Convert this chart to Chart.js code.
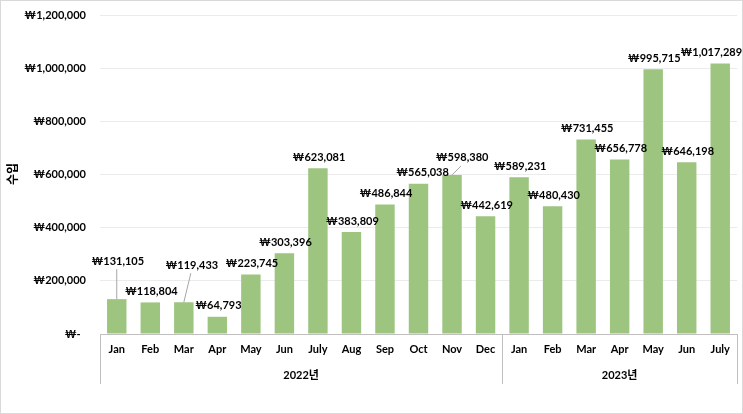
<!DOCTYPE html>
<html>
<head>
<meta charset="utf-8">
<script src="https://cdn.jsdelivr.net/npm/chart.js@4.4.1/dist/chart.umd.min.js"></script>
<style>
  html, body { margin: 0; padding: 0; background: #fff; }
  #wrap { width: 743px; height: 414px; box-sizing: border-box; border: 1px solid #d9d9d9; position: relative; }
  canvas { position: absolute; left: -1px; top: -1px; }
</style>
</head>
<body>
<div id="wrap"><canvas id="chart" width="743" height="414"></canvas></div>
<script>
// ================== DATA ==================
const months = ['Jan', 'Feb', 'Mar', 'Apr', 'May', 'Jun', 'July', 'Aug', 'Sep', 'Oct', 'Nov', 'Dec',
                'Jan', 'Feb', 'Mar', 'Apr', 'May', 'Jun', 'July'];
const years = [
  { label: '2022년', count: 12 },
  { label: '2023년', count: 7 }
];
const income = [131105, 118804, 119433, 64793, 223745, 303396, 623081, 383809, 486844, 565038, 598380, 442619,
                589231, 480430, 731455, 656778, 995715, 646198, 1017289];
const yTicks = [0, 200000, 400000, 600000, 800000, 1000000, 1200000];
const yTitle = '수입';

// ================== HELPERS ==================
const FONT = "Lato, 'Noto Sans CJK KR', sans-serif";
const won = v => v === 0 ? '₩-  ' : '₩' + v.toLocaleString('en-US');

// label nudges (Excel moved a few labels by hand, some with leader lines)
const labelNudge = { 0: [0, -27, true], 2: [7, -26, true], 9: [3, 0], 10: [9, -6, true], 18: [-10, 0] };

const barLabels = {
  id: 'barLabels',
  afterDatasetsDraw(chart) {
    const ctx = chart.ctx;
    const meta = chart.getDatasetMeta(0);
    ctx.save();
    ctx.font = `bold 11px ${FONT}`;
    ctx.textAlign = 'center';
    ctx.textBaseline = 'middle';
    meta.data.forEach((bar, i) => {
      const n = labelNudge[i] || [0, 0];
      const x = bar.x + 1 + n[0];
      const y = bar.y - 11 + n[1];
      if (n[2]) {
        ctx.strokeStyle = '#a6a6a6';
        ctx.lineWidth = 1;
        ctx.beginPath();
        ctx.moveTo(x - 1, y + 8);
        ctx.lineTo(bar.x, bar.y);
        ctx.stroke();
      }
      ctx.fillStyle = '#000';
      ctx.fillText(won(income[i]), x, y);
    });
    ctx.restore();
  }
};

// two-level category axis like Excel
const groupAxis = {
  id: 'groupAxis',
  afterDraw(chart) {
    const ctx = chart.ctx;
    const xs = chart.scales.x;
    const area = chart.chartArea;
    const step = (area.right - area.left) / months.length;
    ctx.save();
    ctx.strokeStyle = '#bfbfbf';
    ctx.lineWidth = 1;
    ctx.fillStyle = '#000';
    ctx.textAlign = 'center';
    ctx.textBaseline = 'middle';
    ctx.font = `bold 11px ${FONT}`;
    months.forEach((m, i) => ctx.fillText(m, xs.getPixelForValue(i), area.bottom + 15));
    let start = 0;
    const edges = [area.left];
    years.forEach(g => {
      const l = area.left + start * step;
      const r = area.left + (start + g.count) * step;
      ctx.fillText(g.label, (l + r) / 2, area.bottom + 41);
      edges.push(r);
      start += g.count;
    });
    edges.forEach(e => {
      const px = Math.round(e) + 0.5;
      ctx.beginPath();
      ctx.moveTo(px, area.bottom);
      ctx.lineTo(px, area.bottom + 50);
      ctx.stroke();
    });
    // y axis title
    ctx.translate(13, 174);
    ctx.rotate(-Math.PI / 2);
    ctx.font = `bold 12px ${FONT}`;
    ctx.fillText(yTitle, 0, 0);
    ctx.restore();
  }
};

// ================== CHART ==================
new Chart(document.getElementById('chart'), {
  type: 'bar',
  data: {
    labels: months.map((m, i) => m + (i < 12 ? ' 2022' : ' 2023')),
    datasets: [{
      data: income,
      backgroundColor: '#9dc580',
      barPercentage: 0.58,
      categoryPercentage: 1
    }]
  },
  options: {
    responsive: false,
    animation: false,
    layout: { padding: { top: 15, right: 6, left: 0, bottom: 0 } },
    plugins: { legend: { display: false }, tooltip: { enabled: false } },
    scales: {
      x: {
        ticks: { display: false },
        grid: { display: false, drawTicks: false },
        border: { color: '#bfbfbf' },
        afterFit: s => { s.height = 80; }
      },
      y: {
        min: 0,
        max: 1200000,
        afterBuildTicks: s => { s.ticks = yTicks.map(v => ({ value: v })); },
        ticks: {
          callback: v => won(v),
          color: '#000',
          padding: 14,
          font: { family: FONT, size: 11, weight: 'bold' }
        },
        grid: {
          color: c => c.tick.value === 0 ? 'rgba(0,0,0,0)' : '#ebebeb',
          drawTicks: false
        },
        border: { display: false },
        afterFit: s => { s.width = 100; s.paddingTop = 0; s.paddingBottom = 0; }
      }
    }
  },
  plugins: [barLabels, groupAxis]
});
</script>
</body>
</html>
